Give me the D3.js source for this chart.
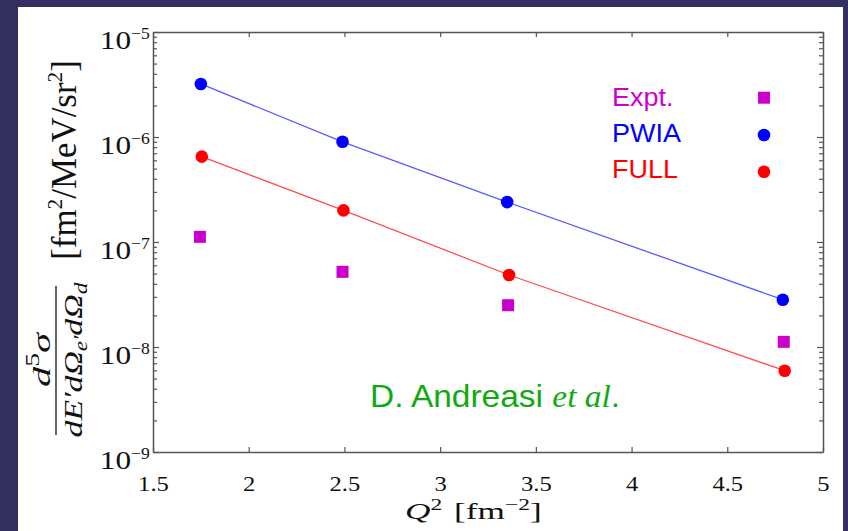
<!DOCTYPE html>
<html>
<head>
<meta charset="utf-8">
<script src="https://cdn.jsdelivr.net/npm/d3@7"></script>
<style>
  html, body { margin: 0; padding: 0; background: #332f60; }
  svg { display: block; }
</style>
</head>
<body>
<svg id="chart" width="848" height="531"></svg>
<script>
// ---- data ----
const exptQ2 = [1.745, 2.49, 3.355, 4.795];
const exptVals = [1.12e-7, 5.2e-8, 2.5e-8, 1.12e-8];
const pwiaQ2 = [1.75, 2.49, 3.35, 4.79];
const pwiaVals = [3.2e-6, 9.0e-7, 2.4e-7, 2.82e-8];
const fullQ2 = [1.755, 2.495, 3.36, 4.80];
const fullVals = [6.5e-7, 2.0e-7, 4.85e-8, 5.95e-9];
const xTicks = [1.5, 2, 2.5, 3, 3.5, 4, 4.5, 5];
const xTickLabels = ["1.5", "2", "2.5", "3", "3.5", "4", "4.5", "5"];
const yMajor = [1e-9, 1e-8, 1e-7, 1e-6, 1e-5];
const yMajorExp = ["\u22129", "\u22128", "\u22127", "\u22126", "\u22125"];
const legendNames = ["Expt.", "PWIA", "FULL"];
const legendColors = ["#cc00cc", "#0000ff", "#ff0000"];

const svg = d3.select("#chart");
const W = 848, H = 531;
svg.append("rect").attr("x", 0).attr("y", 0).attr("width", W).attr("height", H).attr("fill", "#332f60");
svg.append("rect").attr("x", 18).attr("y", 7).attr("width", 825).attr("height", H - 7).attr("fill", "#ffffff");

const L = 153, R = 823, T = 32, B = 452;
const x = d3.scaleLinear().domain([1.5, 5]).range([L, R]);
const y = d3.scaleLog().domain([1e-9, 1e-5]).range([B, T]);

const axisColor = "#555";
const serif = "'Liberation Serif', 'Times New Roman', serif";
const sans = "'Liberation Sans', Arial, Helvetica, sans-serif";

// minor + major y ticks
const yAll = [];
for (let e = -9; e < -5; e++) for (let m = 1; m <= 9; m++) yAll.push(m * Math.pow(10, e));
yAll.push(1e-5);
const isMajor = v => yMajor.some(mv => Math.abs(mv - v) / mv < 1e-6);

function styleAxis(g) {
  g.select(".domain").attr("stroke", axisColor).attr("stroke-width", 1.5);
  g.selectAll(".tick line").attr("stroke", axisColor).attr("stroke-width", 1.2);
}

// left
const gl = svg.append("g").attr("transform", `translate(${L},0)`)
  .call(d3.axisLeft(y).tickValues(yAll).tickSizeOuter(0).tickFormat(""));
gl.selectAll(".tick line").attr("x2", d => isMajor(d) ? 6 : 4);
styleAxis(gl);
// right
const gr = svg.append("g").attr("transform", `translate(${R},0)`)
  .call(d3.axisRight(y).tickValues(yAll).tickSizeOuter(0).tickFormat(""));
gr.selectAll(".tick line").attr("x2", d => isMajor(d) ? -6 : -4);
styleAxis(gr);
// bottom
const gb = svg.append("g").attr("transform", `translate(0,${B})`)
  .call(d3.axisBottom(x).tickValues(xTicks).tickSize(-5).tickSizeOuter(0).tickPadding(23)
    .tickFormat((d, i) => xTickLabels[i]));
styleAxis(gb);
gb.selectAll(".tick text").attr("font-family", serif).attr("font-size", 22).attr("fill", "#111")
  .attr("transform", "scale(1.12,1)");
// top
const gt = svg.append("g").attr("transform", `translate(0,${T})`)
  .call(d3.axisTop(x).tickValues(xTicks).tickSize(-5).tickSizeOuter(0).tickFormat(""));
styleAxis(gt);

// y tick labels (10^n)
const yl = svg.append("g");
yMajor.forEach((v, i) => {
  const ty = y(v);
  yl.append("text").attr("transform", `translate(131,${ty + 17}) scale(1.25,1)`).attr("text-anchor", "end")
    .attr("font-family", serif).attr("font-size", 25).attr("fill", "#111").text("10");
  yl.append("text").attr("transform", `translate(131,${ty + 7}) scale(1.1,1)`).attr("text-anchor", "start")
    .attr("font-family", serif).attr("font-size", 16).attr("fill", "#111").text(yMajorExp[i]);
});

// lines
const line = d3.line().x(d => x(d[0])).y(d => y(d[1]));
svg.append("path").datum(pwiaQ2.map((q, i) => [q, pwiaVals[i]]))
  .attr("d", line).attr("fill", "none").attr("stroke", "#5a5aff").attr("stroke-width", 1.3);
svg.append("path").datum(fullQ2.map((q, i) => [q, fullVals[i]]))
  .attr("d", line).attr("fill", "none").attr("stroke", "#ff5050").attr("stroke-width", 1.3);

// markers
svg.append("g").selectAll("circle").data(pwiaQ2.map((q, i) => [q, pwiaVals[i]])).join("circle")
  .attr("cx", d => x(d[0])).attr("cy", d => y(d[1])).attr("r", 6.3).attr("fill", "#0000ff");
svg.append("g").selectAll("circle").data(fullQ2.map((q, i) => [q, fullVals[i]])).join("circle")
  .attr("cx", d => x(d[0])).attr("cy", d => y(d[1])).attr("r", 6.3).attr("fill", "#ff0000");
svg.append("g").selectAll("rect").data(exptQ2.map((q, i) => [q, exptVals[i]])).join("rect")
  .attr("x", d => x(d[0]) - 6).attr("y", d => y(d[1]) - 6).attr("width", 12).attr("height", 12)
  .attr("fill", "#cc00cc");

// legend
const legBase = [105.7, 141.7, 178.3];
const legMarkY = [97.7, 135, 171.7];
legendNames.forEach((n, i) => {
  svg.append("text").attr("transform", `translate(612,${legBase[i]}) scale(1.08,1)`).attr("font-family", sans)
    .attr("font-size", 25).attr("fill", legendColors[i]).text(n);
  if (i === 0) {
    svg.append("rect").attr("x", 764 - 6).attr("y", legMarkY[i] - 6).attr("width", 12).attr("height", 12)
      .attr("fill", legendColors[i]);
  } else {
    svg.append("circle").attr("cx", 764).attr("cy", legMarkY[i]).attr("r", 6.3).attr("fill", legendColors[i]);
  }
});

// annotation
const ann = svg.append("text").attr("transform", "translate(370,406.5) scale(1.08,1)").attr("fill", "#10aa10");
ann.append("tspan").attr("font-family", sans).attr("font-size", 31).text("D. Andreasi ");
ann.append("tspan").attr("font-family", serif).attr("font-style", "italic").attr("font-size", 31).text("et al");
ann.append("tspan").attr("font-family", sans).attr("font-size", 31).text(".");

// x-axis title
const xt = svg.append("text").attr("transform", "translate(405,519) scale(1.47,1)")
  .attr("font-family", serif).attr("font-size", 24).attr("fill", "#111");
xt.append("tspan").attr("font-style", "italic").text("Q");
xt.append("tspan").attr("font-size", 16).attr("dy", -9).text("2");
xt.append("tspan").attr("dy", 9).attr("dx", 8).text("[fm");
xt.append("tspan").attr("font-size", 16).attr("dy", -9).text("\u22122");
xt.append("tspan").attr("dy", 9).text("]");

// y-axis title (rotated)
svg.append("line").attr("x1", 56).attr("x2", 56).attr("y1", 286).attr("y2", 435)
  .attr("stroke", "#111").attr("stroke-width", 1.3);
const num = svg.append("text").attr("transform", "translate(50,360) rotate(-90) scale(1.55,1)")
  .attr("text-anchor", "middle").attr("font-family", serif).attr("font-size", 26).attr("fill", "#111");
num.append("tspan").attr("font-style", "italic").text("d");
num.append("tspan").attr("font-size", 18).attr("dy", -11).text("5");
num.append("tspan").attr("font-style", "italic").attr("dy", 11).text("\u03c3");
const den = svg.append("text").attr("transform", "translate(82,360) rotate(-90) scale(1.3,1)")
  .attr("text-anchor", "middle").attr("font-family", serif).attr("font-size", 26).attr("fill", "#111")
  .attr("font-style", "italic");
den.append("tspan").text("dE\u2032d\u03a9");
den.append("tspan").attr("font-size", 18).attr("dy", 5).text("e\u2032");
den.append("tspan").attr("dy", -5).text("d\u03a9");
den.append("tspan").attr("font-size", 18).attr("dy", 5).text("d");
const un = svg.append("text").attr("transform", "translate(76,160) rotate(-90) scale(0.97,1)")
  .attr("text-anchor", "middle").attr("font-family", serif).attr("font-size", 36).attr("fill", "#111");
un.append("tspan").text("[fm");
un.append("tspan").attr("font-size", 22).attr("dy", -14).text("2");
un.append("tspan").attr("dy", 14).text("/MeV/sr");
un.append("tspan").attr("font-size", 22).attr("dy", -14).text("2");
un.append("tspan").attr("dy", 14).text("]");
</script>
</body>
</html>
